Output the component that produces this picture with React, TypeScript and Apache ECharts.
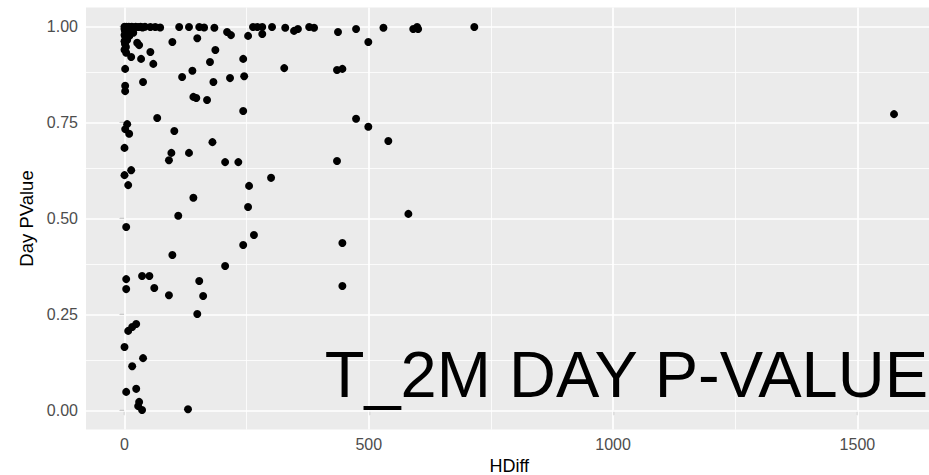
import React, { useEffect, useRef } from "react";
import * as echarts from "echarts";

// HDiff (x) and Day PValue (y)
const hdiff = [
  0, 2, 4, 6, 9, 12, 15, 19, 23, 28, 33, 37,
  0, 1, 3, 0, 2, 5, 0, 1, 3, 0,
  8, 12, 6, 10, 15, 18,
  42, 53, 63, 73,
  112, 132, 153, 163, 184,
  210, 218, 253, 263, 272, 282, 282, 302, 329, 347, 355, 378, 388, 437, 474, 530, 591, 599, 601, 716,
  499,
  98, 149, 186, 175, 139, 118, 182, 216, 245, 243, 327, 435, 446,
  141, 147, 169,
  243, 474, 499, 540, 1575,
  5.5, 26, 30, 3.5, 13.7, 34, 53, 59, 1.4, 38, 1.4, 1.4,
  67, 5.5, 1.4, 9.6, 102, 180, 0, 96, 132, 91, 206, 233, 435, 13.7, 0, 300, 7.6, 255, 141, 253, 581, 110,
  3.5, 265, 446, 243, 98, 206, 3.5, 36, 51, 3.5, 61, 153, 91, 161, 446, 149,
  24, 15.8, 7.6, 0, 38, 15.8, 3.5, 24, 30, 28, 36, 130,
];
const dayPValue = [
  1.0, 0.999, 1.0, 0.998, 1.0, 0.999, 1.0, 0.998, 1.0, 0.999, 1.0, 0.998,
  0.994, 0.989, 0.984, 0.978, 0.972, 0.968, 0.962, 0.955, 0.947, 0.94,
  0.99, 0.986, 0.981, 0.976, 0.992, 0.984,
  1.0, 0.999, 0.999, 0.998,
  0.999, 0.999, 0.999, 0.998, 0.997,
  0.986, 0.978, 0.976, 0.999, 0.999, 0.999, 0.981, 0.999, 0.997, 0.989, 0.994, 0.999, 0.997, 0.986, 0.994, 0.997, 0.994, 0.999, 0.994, 0.999,
  0.96,
  0.96, 0.97, 0.939, 0.908, 0.885, 0.869, 0.856, 0.866, 0.871, 0.916, 0.892, 0.887, 0.89,
  0.817, 0.814, 0.809,
  0.78, 0.76, 0.739, 0.702, 0.772,
  0.965, 0.958, 0.952, 0.932, 0.921, 0.916, 0.934, 0.903, 0.89, 0.856, 0.846, 0.832,
  0.762, 0.746, 0.733, 0.721, 0.728, 0.699, 0.684, 0.671, 0.671, 0.652, 0.647, 0.647, 0.65, 0.626, 0.613, 0.606, 0.587, 0.585, 0.554, 0.53, 0.512, 0.507,
  0.478, 0.457, 0.436, 0.431, 0.405, 0.376, 0.342, 0.35, 0.35, 0.316, 0.319, 0.337, 0.3, 0.298, 0.324, 0.251,
  0.225, 0.217, 0.207, 0.165, 0.136, 0.115, 0.048, 0.056, 0.022, 0.011, 0.001, 0.003,
];

const xTicks = [0, 500, 1000, 1500];
const xMinorTicks = [250, 750, 1250];
const yTicks = [0, 0.25, 0.5, 0.75, 1];
const yMinorTicks = [0.125, 0.375, 0.625, 0.875];
const annotation = "T_2M DAY P-VALUE";

const FONT = "Liberation Sans, Arial, Helvetica, sans-serif";

export default function App() {
  const ref = useRef<HTMLDivElement>(null);

  useEffect(() => {
    if (!ref.current) return;
    const chart = echarts.init(ref.current, null, { renderer: "svg" });

    const xDataMin = Math.min(...hdiff);
    const xDataMax = Math.max(...hdiff);
    const xPad = (xDataMax - xDataMin) * 0.05;
    const yDataMin = 0;
    const yDataMax = 1;
    const yPad = (yDataMax - yDataMin) * 0.05;

    const points = hdiff.map((x, i) => [x, dayPValue[i]]);

    const gridLineSeries = (vals: number[], axis: "xAxis" | "yAxis", width: number, name: string) => ({
      type: "scatter",
      name,
      data: [],
      silent: true,
      z: 1,
      markLine: {
        silent: true,
        symbol: ["none", "none"],
        label: { show: false },
        lineStyle: { color: "#FFFFFF", width, type: "solid", opacity: 1 },
        emphasis: { disabled: true },
        data: vals.map((v) => ({ [axis]: v })),
      },
    });

    chart.setOption({
      animation: false,
      textStyle: { fontFamily: FONT },
      grid: {
        left: 86,
        top: 7.5,
        right: -3.5,
        bottom: 45.5,
        show: true,
        backgroundColor: "#EBEBEB",
        borderWidth: 0,
        containLabel: false,
        outerBoundsMode: "none",
      },
      xAxis: {
        type: "value",
        min: xDataMin - xPad,
        max: xDataMax + xPad,
        name: "HDiff",
        nameLocation: "middle",
        nameGap: 17,
        nameTextStyle: { fontSize: 18, color: "#000000", fontFamily: FONT },
        axisLine: { show: false },
        axisTick: {
          show: true,
          customValues: xTicks,
          length: 5,
          lineStyle: { color: "#333333", width: 1.1 },
        },
        axisLabel: {
          customValues: xTicks,
          margin: 7,
          fontSize: 16,
          color: "#4D4D4D",
          fontFamily: FONT,
          formatter: (v: number) => String(v),
        },
        splitLine: { show: false },
      },
      yAxis: {
        type: "value",
        min: yDataMin - yPad,
        max: yDataMax + yPad,
        name: "Day PValue",
        nameLocation: "middle",
        nameRotate: 90,
        nameGap: 50,
        nameTextStyle: { fontSize: 18.5, color: "#000000", fontFamily: FONT },
        axisLine: { show: false },
        axisTick: {
          show: true,
          customValues: yTicks,
          length: 5,
          lineStyle: { color: "#333333", width: 1.1 },
        },
        axisLabel: {
          customValues: yTicks,
          margin: 8,
          fontSize: 16,
          color: "#4D4D4D",
          fontFamily: FONT,
          formatter: (v: number) => v.toFixed(2),
        },
        splitLine: { show: false },
      },
      series: [
        gridLineSeries(xMinorTicks, "xAxis", 0.8, "xminor"),
        gridLineSeries(yMinorTicks, "yAxis", 0.8, "yminor"),
        gridLineSeries(xTicks, "xAxis", 1.7, "xmajor"),
        gridLineSeries(yTicks, "yAxis", 1.7, "ymajor"),
        {
          type: "scatter",
          name: "points",
          data: points,
          symbol: "circle",
          symbolSize: 8,
          itemStyle: { color: "#000000", opacity: 1 },
          z: 5,
          silent: true,
        },
      ],
      graphic: [
        {
          type: "text",
          x: 928,
          y: 374,
          z: 100,
          style: {
            text: annotation,
            fill: "#000000",
            fontSize: 65,
            fontFamily: FONT,
            align: "right",
            verticalAlign: "middle",
          },
        },
      ],
    });

    return () => chart.dispose();
  }, []);

  return (
    <div
      ref={ref}
      style={{ position: "fixed", left: 0, top: 0, width: 929, height: 475, background: "#FFFFFF" }}
    />
  );
}
